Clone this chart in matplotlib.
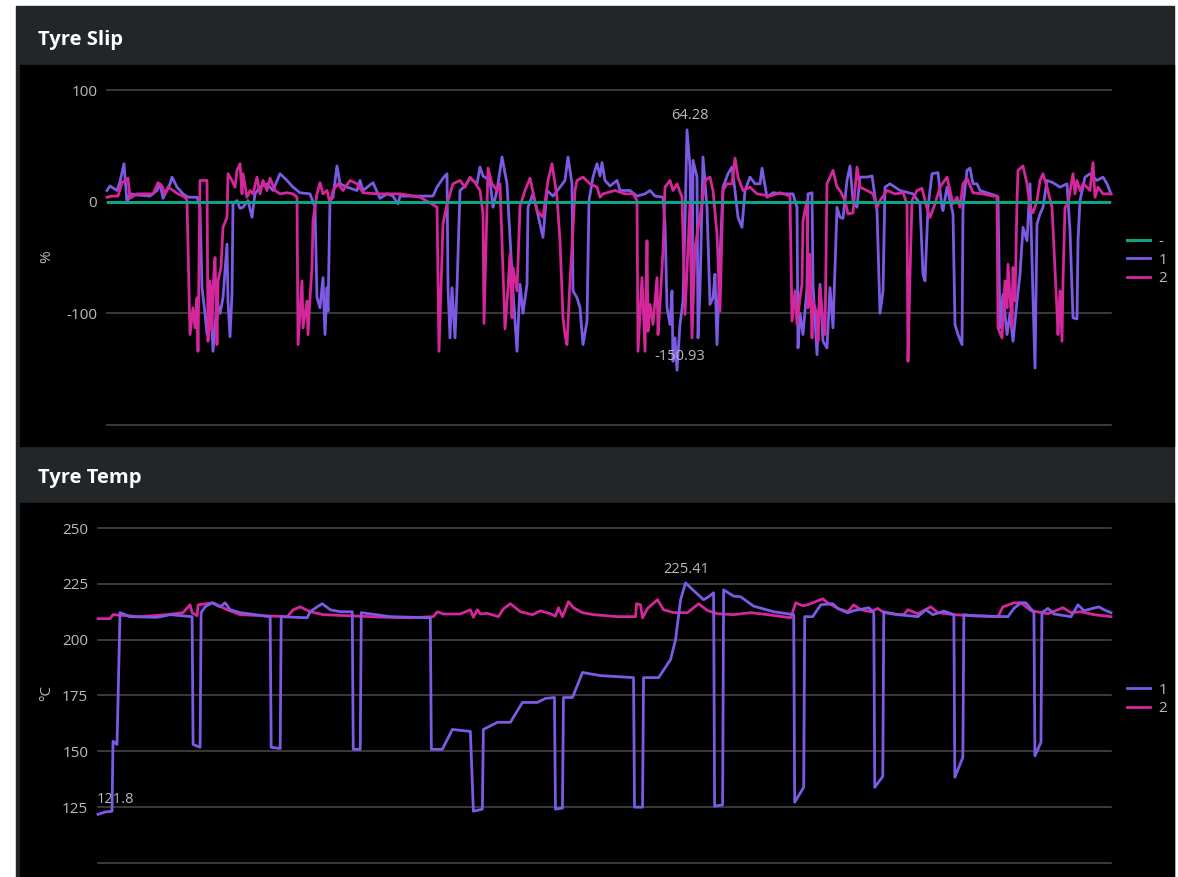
"""Tyre slip / tyre temp telemetry panels"""
import matplotlib.pyplot as plt
from matplotlib.patches import Rectangle

plt.rcParams['font.family'] = ['Open Sans', 'DejaVu Sans']

# ---- Tyre Slip (%), x = distance along lap ----
slip_x1 = [0, 3, 10, 13, 17, 20, 23, 30, 43, 50,
           53, 56, 63, 65, 70, 76, 81, 90, 93, 95,
           98, 100, 103, 106, 110, 113, 116, 120, 121, 123,
           125, 126, 130, 133, 136, 141, 145, 148, 153, 160,
           166, 173, 180, 186, 193, 203, 208, 210, 213, 216,
           218, 220, 221, 223, 226, 230, 233, 240, 250, 253,
           256, 266, 273, 280, 286, 291, 293, 313, 326, 330,
           336, 340, 341, 343, 345, 348, 350, 353, 358, 363,
           370, 373, 376, 383, 386, 390, 395, 400, 406, 410,
           413, 416, 420, 421, 426, 430, 436, 440, 446, 453,
           458, 461, 465, 466, 470, 473, 476, 480, 482, 486,
           490, 493, 495, 498, 503, 510, 513, 523, 530, 538,
           543, 548, 556, 558, 560, 563, 565, 566, 568, 570,
           573, 576, 578, 580, 583, 585, 586, 590, 591, 593,
           596, 600, 603, 606, 608, 610, 613, 616, 621, 625,
           628, 631, 635, 638, 643, 648, 653, 655, 660, 666,
           676, 686, 690, 691, 693, 696, 700, 701, 705, 706,
           710, 713, 716, 720, 723, 726, 730, 733, 736, 740,
           743, 746, 750, 753, 760, 765, 770, 773, 776, 778,
           783, 793, 806, 813, 816, 818, 821, 825, 831, 835,
           836, 840, 846, 848, 851, 855, 856, 860, 863, 866,
           870, 873, 883, 890, 891, 893, 896, 900, 903, 906,
           910, 913, 916, 920, 923, 926, 928, 930, 933, 936,
           940, 946, 953, 960, 963, 966, 970, 971, 973, 978,
           983, 990, 996, 1000, 1004]
slip_y1 = [10, 14, 10, 18, 34, -1, 7, 6, 5, 10,
           16, 3, 16, 22, 13, 7, 4, 4, -5, -77,
           -100, -119, -77, -134, -89, -100, -86, -38, -89, -121,
           -83, -2, 1, -6, -5, 1, -14, 7, 13, 16,
           10, 25, 19, 13, 8, 7, -5, -86, -95, -68,
           -119, -77, -98, 1, 4, 32, 16, 13, 10, 19,
           10, 17, 3, 7, 5, -2, 5, 5, 5, 13,
           21, 25, -77, -122, -77, -122, -77, 10, 14, 21,
           16, 31, 23, 19, -5, 10, 40, 16, -80, -134,
           -74, -100, -74, -5, 7, -8, -32, 10, 5, 13,
           19, 40, 16, -80, -86, -95, -128, -107, 1, 22,
           34, 23, 35, 19, 14, 19, 10, 10, 5, 7,
           10, 5, 4, -20, -95, -110, -80, -143, -122, -150.93,
           -110, -89, -20, 64.28, 31, -107, 37, 22, -122, -80,
           40, -5, -92, -86, -65, -128, -50, 13, 25, 31,
           10, -14, -23, 10, 22, 16, 16, 30, 4, 8,
           7, 7, -5, -131, -100, -119, -77, 7, 8, -74,
           -137, -74, -125, -131, -77, -113, -5, -14, -15, 19,
           32, 1, -5, 22, 22, 23, -8, -100, -80, 13,
           16, 10, 7, -2, -65, -71, -5, 25, 26, -5,
           -8, 13, -11, -110, -119, -128, -5, 28, 30, 16,
           16, 10, 7, 5, 4, -113, -83, -119, -100, -125,
           -89, -65, -23, -35, 16, -86, -149, -20, -11, -5,
           19, 17, 13, 16, -26, -104, -105, -35, 1, 22,
           25, 19, 22, 16, 7]

slip_x2 = [0, 5, 11, 15, 21, 23, 30, 46, 51, 55,
           58, 61, 66, 71, 78, 80, 83, 86, 88, 90,
           91, 93, 100, 101, 103, 105, 106, 108, 110, 111,
           114, 116, 120, 121, 125, 128, 130, 133, 135, 136,
           140, 143, 146, 150, 153, 156, 160, 163, 168, 173,
           180, 186, 190, 191, 195, 196, 200, 201, 203, 205,
           206, 210, 213, 216, 220, 223, 226, 231, 236, 243,
           250, 256, 270, 283, 293, 313, 323, 330, 332, 336,
           340, 346, 353, 358, 363, 368, 373, 376, 377, 381,
           385, 390, 393, 398, 401, 403, 405, 406, 410, 413,
           418, 423, 430, 436, 441, 445, 450, 453, 456, 458,
           460, 463, 465, 468, 470, 476, 483, 490, 493, 496,
           508, 518, 526, 530, 531, 535, 538, 540, 541, 543,
           546, 550, 551, 553, 556, 558, 563, 566, 570, 575,
           578, 583, 585, 588, 595, 598, 603, 606, 610, 613,
           616, 620, 625, 628, 631, 636, 643, 650, 663, 673,
           683, 685, 688, 690, 693, 695, 696, 700, 701, 703,
           705, 706, 710, 711, 713, 716, 718, 720, 723, 726,
           730, 733, 738, 741, 746, 750, 753, 760, 766, 770,
           773, 780, 788, 796, 800, 801, 803, 805, 810, 815,
           820, 823, 828, 833, 840, 846, 850, 853, 856, 860,
           866, 876, 886, 890, 891, 895, 898, 900, 901, 905,
           906, 908, 910, 911, 916, 920, 923, 926, 930, 933,
           936, 940, 945, 950, 951, 953, 955, 956, 958, 961,
           966, 968, 970, 973, 976, 980, 983, 986, 988, 991,
           996, 1004]
slip_y2 = [4, 5, 5, 17, 21, 3, 7, 7, 17, 14,
           7, 13, 10, 7, 4, 1, -119, -95, -113, -86,
           -134, 19, 19, -125, -71, -116, -77, -50, -128, -71,
           -59, -23, -14, 25, 19, 13, 28, 34, 7, 25,
           4, 10, 7, 22, 7, 19, 10, 21, 10, 7,
           8, 7, 4, -128, -71, -113, -89, -119, -86, -59,
           -17, 7, 17, 7, 10, -2, 10, 16, 10, 19,
           16, 8, 7, 7, 7, 4, -1, -5, -134, -20,
           -2, 16, 19, 13, 22, 17, 10, -11, -109, 30,
           16, 10, 16, -114, -77, -47, -104, -59, -80, -4,
           10, 21, -8, -14, 19, 34, 4, -35, -104, -119,
           -128, -71, -41, 10, 19, 22, 16, 13, 4, 7,
           10, 7, 7, 1, -134, -68, -134, -35, -116, -92,
           -110, -68, -119, -92, -44, 13, 19, 10, 16, 4,
           -101, -2, -122, -41, -2, 19, 22, 10, -29, -98,
           10, 16, 16, 39, 22, 10, 13, 7, 5, 8,
           5, -107, -80, -110, -86, -74, -17, 1, -95, -47,
           -122, -89, -101, -125, -77, -107, -119, 16, 22, 28,
           13, 10, 1, -11, -10, 31, 13, 10, 7, -5,
           1, 10, 7, 8, -2, -143, -65, 1, 10, 12,
           -6, -14, -2, 13, 22, -2, 4, -5, 16, 21,
           8, 7, 5, 5, -113, -122, -71, -95, -56, -113,
           -59, -89, 1, 28, 32, 16, -5, -10, 1, 19,
           25, 13, -5, -98, -119, -80, -125, -71, -5, -2,
           25, 7, 19, 10, 16, 13, 10, 35, 4, 13,
           7, 7]

slip_x0 = [0, 1004]
slip_y0 = [0, 0]

# ---- Tyre Temp (degC) ----
temp_x1 = [0, 7, 14, 15, 19, 22, 32, 59, 72, 94,
           95, 102, 103, 107, 114, 122, 127, 132, 142, 172,
           173, 182, 183, 209, 212, 219, 224, 232, 242, 254,
           255, 262, 263, 292, 332, 333, 344, 354, 372, 375,
           384, 385, 399, 412, 424, 439, 447, 456, 457, 464,
           465, 474, 484, 502, 535, 536, 544, 545, 560, 572,
           577, 582, 587, 595, 605, 610, 615, 616, 624, 625,
           635, 642, 655, 675, 695, 696, 705, 706, 714, 722,
           734, 739, 749, 755, 770, 775, 776, 784, 785, 799,
           819, 827, 834, 845, 855, 856, 864, 865, 875, 909,
           915, 922, 927, 935, 936, 942, 943, 949, 955, 972,
           979, 985, 1000, 1005, 1012]
temp_y1 = [121.8, 122.8, 123.2, 154.5, 153.1, 212.1, 210.3, 210.0, 211.2, 210.3,
           153.1, 151.8, 212.1, 214.7, 216.5, 214.7, 216.5, 213.4, 212.1, 210.3,
           151.8, 151.3, 210.3, 209.8, 212.5, 214.7, 216.1, 213.4, 212.5, 212.5,
           150.9, 150.9, 212.1, 210.3, 209.8, 150.9, 150.9, 159.8, 158.9, 123.2,
           124.1, 159.8, 163.0, 163.0, 171.9, 171.9, 173.7, 174.1, 124.1, 124.6,
           174.1, 174.1, 185.3, 183.9, 183.0, 125.0, 125.0, 183.0, 183.0, 191.1,
           200.0, 217.9, 225.41, 222.0, 217.9, 219.2, 221.0, 125.5, 126.0, 222.3,
           219.5, 219.2, 215.0, 212.5, 211.2, 127.2, 133.9, 210.3, 210.3, 215.6,
           216.1, 214.0, 212.0, 213.0, 214.3, 212.1, 133.9, 138.8, 212.5, 211.2,
           210.3, 213.4, 211.2, 212.8, 211.2, 138.4, 147.3, 211.2, 210.7, 210.3,
           214.0, 216.5, 216.5, 212.1, 148.0, 154.0, 212.1, 214.0, 211.5, 210.3,
           215.6, 213.0, 214.7, 213.4, 212.1]

temp_x2 = [0, 12, 15, 42, 69, 85, 92, 94, 99, 100,
           115, 129, 142, 165, 189, 195, 202, 212, 225, 252,
           282, 312, 335, 339, 345, 362, 372, 375, 379, 382,
           389, 400, 405, 412, 422, 434, 442, 452, 457, 460,
           464, 470, 475, 484, 495, 519, 537, 538, 542, 544,
           549, 559, 565, 575, 589, 600, 609, 619, 635, 652,
           669, 692, 697, 704, 709, 714, 724, 729, 739, 749,
           755, 762, 772, 779, 785, 799, 805, 809, 819, 832,
           839, 855, 875, 899, 904, 915, 922, 932, 949, 964,
           972, 982, 995, 1012]
temp_y2 = [209.4, 209.4, 211.2, 210.3, 211.2, 212.1, 215.6, 212.1, 210.7, 215.6,
           216.5, 213.4, 211.2, 210.7, 210.3, 213.4, 214.7, 212.5, 211.2, 210.7,
           210.1, 209.8, 210.3, 212.5, 211.5, 211.5, 213.4, 210.0, 213.4, 211.5,
           211.8, 210.3, 213.8, 216.1, 212.5, 211.2, 212.9, 211.6, 210.5, 214.3,
           210.3, 217.0, 214.3, 212.1, 211.2, 210.3, 210.3, 216.1, 215.6, 209.8,
           214.0, 217.9, 213.4, 212.1, 212.1, 216.1, 213.0, 211.6, 211.2, 212.1,
           211.2, 209.8, 216.5, 215.2, 215.6, 216.5, 218.3, 216.5, 214.0, 212.5,
           215.6, 213.4, 212.5, 214.0, 212.1, 211.2, 211.2, 213.4, 211.6, 214.7,
           212.1, 211.2, 210.7, 210.3, 214.7, 216.5, 216.5, 213.0, 211.6, 214.3,
           212.1, 212.5, 211.2, 210.3]

TEAL = '#12a086'
PURPLE = '#7c5ae4'
MAGENTA = '#d3279b'
GRID = '#4a4a4a'
TXT = '#b8bcc0'

W, H = 1178, 877
fig = plt.figure(figsize=(W / 100, H / 100), dpi=100, facecolor='white')


def box(x0, y0, x1, y1):
    """pixel box (top-left origin) -> figure fraction rect"""
    return [x0 / W, 1 - y1 / H, (x1 - x0) / W, (y1 - y0) / H]


def rect(x0, y0, x1, y1, color):
    r = box(x0, y0, x1, y1)
    fig.patches.append(Rectangle((r[0], r[1]), r[2], r[3], transform=fig.transFigure,
                                 color=color, zorder=-10))


# panel backgrounds
rect(16, 6, 1174, 877, '#222629')
rect(20, 65, 1174, 446, 'black')
rect(20, 503, 1174, 877, 'black')

fig.text(38 / W, 1 - 40 / H, 'Tyre Slip', color='white', fontsize=14.5, fontweight='bold', va='center')
fig.text(38 / W, 1 - 478 / H, 'Tyre Temp', color='white', fontsize=14.5, fontweight='bold', va='center')


def style(ax, ticks, labels, lo, hi):
    ax.set_facecolor('none')
    for s in ax.spines.values():
        s.set_visible(False)
    ax.set_xticks([])
    ax.set_yticks(ticks)
    ax.set_yticklabels(labels)
    ax.tick_params(axis='y', length=0, pad=7, labelcolor=TXT, labelsize=11)
    ax.set_ylim(lo, hi)
    for t in ticks:
        ax.axhline(t, color=GRID, lw=1.1, zorder=0, clip_on=False)


LEG = dict(loc='center left', frameon=False, handlelength=1.5, handletextpad=0.55,
           labelspacing=0.22, borderpad=0, borderaxespad=0, labelcolor=TXT, fontsize=11)

# ---- slip panel ----
ax1 = fig.add_axes(box(107, 90, 1111, 425))
style(ax1, [-200, -100, 0, 100], ['', '-100', '0', '100'], -200, 100)
ax1.set_xlim(0, 1004)
l0, = ax1.plot(slip_x0, slip_y0, color=TEAL, lw=2.2, zorder=5, label='-')
l1, = ax1.plot(slip_x1, slip_y1, color=PURPLE, lw=2.0, zorder=3, label='1', clip_on=False)
l2, = ax1.plot(slip_x2, slip_y2, color=MAGENTA, lw=2.0, zorder=4, label='2', clip_on=False)
ax1.legend(handles=[l0, l1, l2], bbox_to_anchor=(1.016, 0.4925), **LEG)
fig.text(47 / W, 1 - 257 / H, '%', color=TXT, fontsize=11, rotation=90, ha='center', va='center')

i_max = slip_y1.index(max(slip_y1))
i_min = slip_y1.index(min(slip_y1))
ax1.annotate(f'{slip_y1[i_max]:.2f}', (slip_x1[i_max], slip_y1[i_max]), xytext=(3, 7),
             textcoords='offset pixels', ha='center', va='bottom', color=TXT, fontsize=10.5)
ax1.annotate(f'{slip_y1[i_min]:.2f}', (slip_x1[i_min], slip_y1[i_min]), xytext=(3, 6),
             textcoords='offset pixels', ha='center', va='bottom', color=TXT, fontsize=10.5)

# ---- temp panel ----
ax2 = fig.add_axes(box(98, 528, 1111, 863))
style(ax2, [100, 125, 150, 175, 200, 225, 250], ['', '125', '150', '175', '200', '225', '250'], 100, 250)
ax2.set_xlim(0, 1012)
t1, = ax2.plot(temp_x1, temp_y1, color=PURPLE, lw=2.0, zorder=4, label='1', clip_on=False)
t2, = ax2.plot(temp_x2, temp_y2, color=MAGENTA, lw=2.0, zorder=3, label='2', clip_on=False)
ax2.legend(handles=[t1, t2], bbox_to_anchor=(1.0158, 0.488), **LEG)
fig.text(47 / W, 1 - 693 / H, '°C', color=TXT, fontsize=11, rotation=90, ha='center', va='center')

j_max = temp_y1.index(max(temp_y1))
j_min = temp_y1.index(min(temp_y1))
ax2.annotate(f'{temp_y1[j_max]:.2f}', (temp_x1[j_max], temp_y1[j_max]), xytext=(1, 6),
             textcoords='offset pixels', ha='center', va='bottom', color=TXT, fontsize=10.5)
ax2.annotate(f'{temp_y1[j_min]:.1f}', (temp_x1[j_min], temp_y1[j_min]), xytext=(-1, 7),
             textcoords='offset pixels', ha='left', va='bottom', color=TXT, fontsize=10.5)

fig.savefig('out.png', dpi=100, facecolor='white')
